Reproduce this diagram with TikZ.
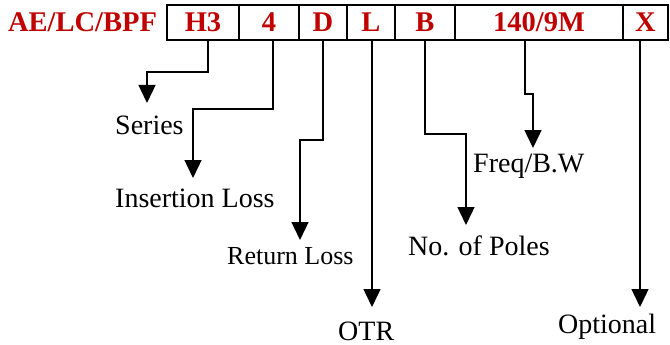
\documentclass[tikz,border=0pt]{standalone}
\usepackage{fontspec}
\setmainfont{Liberation Serif}
\usetikzlibrary{positioning,arrows.meta}
\definecolor{codered}{RGB}{192,0,0}

\tikzset{
  cell/.style={draw, line width=2pt, outer sep=0pt, inner sep=0pt,
    minimum height=35pt, text height=19pt, text depth=0pt,
    font=\bfseries\fontsize{28.5}{30}\selectfont, text=codered},
  lbl/.style={inner sep=0pt, anchor=base west, font=\fontsize{28}{30}\selectfont},
  arr/.style={line width=1.4pt, -{Triangle[length=18pt,width=17pt]}}
}

\begin{document}
\begin{tikzpicture}[x=1pt,y=-1pt]
\useasboundingbox (0,0) rectangle (670,345);

% code boxes
\node[cell, minimum width=72pt, anchor=north west] (h3) at (167,5) {H3};
\node[cell, minimum width=60pt, right=0pt of h3] (four) {4};
\node[cell, minimum width=48pt, right=0pt of four] (dd) {D};
\node[cell, minimum width=48pt, right=0pt of dd] (ll) {L};
\node[cell, minimum width=60pt, right=0pt of ll] (bb) {B};
\node[cell, minimum width=168pt, right=0pt of bb] (fq) {140/9M};
\node[cell, minimum width=45pt, right=0pt of fq] (xx) {X};
\node[cell, draw=none, left=10pt of h3] (model) {AE/LC/BPF};

% labels
\node[lbl] (series) at (115,134) {Series};
\node[lbl] (insloss) at (115,207) {Insertion Loss};
\node[lbl, font=\fontsize{26}{28}\selectfont] (retloss) at (227,264) {Return Loss};
\node[lbl] (otr) at (338,340) {OTR};
\node[lbl] (fbw) at (473,172) {Freq/B.W};
\node[lbl] (poles) at (408,255) {No. of Poles};
\node[lbl] (opt) at (558,333) {Optional};

% arrow tips
\coordinate (tseries) at (147,103);
\coordinate (tins) at (193,178);
\coordinate (tret) at (300,240);
\coordinate (totr) at (372,307);
\coordinate (tpoles) at (466,225);
\coordinate (tfbw) at (533,148);
\coordinate (topt) at (640,307);

\draw[arr] ([xshift=5pt]h3.south) -- ++(0,32) -| (tseries);
\draw[arr] ([xshift=4pt]four.south) -- ++(0,69) -| (tins);
\draw[arr] (dd.south) -- ++(0,100) -| (tret);
\draw[arr] (ll.south -| totr) -- (totr);
\draw[arr] (bb.south) -- ++(0,94) -| (tpoles);
\draw[arr] ([xshift=-14pt]fq.south) -- ++(0,54) -| (tfbw);
\draw[arr] (xx.south -| topt) -- (topt);
\end{tikzpicture}
\end{document}
